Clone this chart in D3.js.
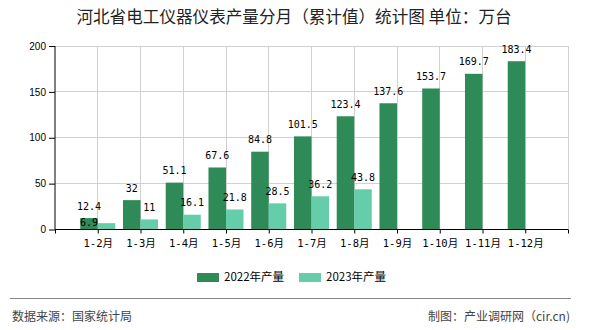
<!DOCTYPE html>
<html><head><meta charset="utf-8">
<script src="https://cdn.jsdelivr.net/npm/d3@7/dist/d3.min.js"></script>
<style>
html,body{margin:0;padding:0;background:#fff;}
svg{display:block;}
</style></head>
<body>
<svg id="chart" width="590" height="330"></svg>
<script>
const categories = ["1-2月","1-3月","1-4月","1-5月","1-6月","1-7月","1-8月","1-9月","1-10月","1-11月","1-12月"];
const series2022 = [12.4,32,51.1,67.6,84.8,101.5,123.4,137.6,153.7,169.7,183.4];
const series2023 = [6.9,11,16.1,21.8,28.5,36.2,43.8,null,null,null,null];
const yTicks = [0,50,100,150,200];
const seriesNames = ["2022年产量","2023年产量"];
const colors = ["#2e8b57","#66cdaa"];
const title = "河北省电工仪器仪表产量分月（累计值）统计图 单位：万台";
const sourceText = "数据来源：国家统计局";
const creditText = "制图：产业调研网（cir.cn)";

const svg = d3.select("#chart");
const L = 55, R = 568, T = 46, B = 229.5;
const monoFont = "'DejaVu Sans Mono','Noto Sans CJK SC',monospace";
const cjkFont = "'Noto Sans CJK SC','Liberation Sans',sans-serif";

const x = d3.scalePoint().domain(["", ...categories, " "]).range([L, R]);
const step = x.step();
const bw = step * 0.41;
const y = d3.scaleLinear().domain([0, 200]).range([B, T]);

// title
svg.append("text").attr("x", 294).attr("y", 23).attr("text-anchor", "middle")
  .attr("font-family", cjkFont).attr("font-size", 16.6).attr("fill", "#222")
  .text(title);

// grid
const g = svg.append("g");
g.selectAll("line.hg").data(yTicks.filter(d => d > 0)).join("line")
  .attr("x1", L).attr("x2", R).attr("y1", d => y(d)).attr("y2", d => y(d))
  .attr("stroke", "#d0d0d0").attr("stroke-width", 1).attr("shape-rendering", "crispEdges");
g.selectAll("line.vg").data(x.domain().slice(1)).join("line")
  .attr("x1", d => x(d)).attr("x2", d => x(d))
  .attr("y1", T).attr("y2", B)
  .attr("stroke", "#d0d0d0").attr("stroke-width", 1).attr("shape-rendering", "crispEdges");

// bars
const bars = svg.append("g");
bars.selectAll("rect.a").data(categories).join("rect")
  .attr("x", (d, i) => x(d) - bw).attr("width", bw)
  .attr("y", (d, i) => y(series2022[i])).attr("height", (d, i) => B - y(series2022[i]))
  .attr("fill", colors[0]);
bars.selectAll("rect.b").data(categories.filter((d, i) => series2023[i] != null)).join("rect")
  .attr("x", d => x(d)).attr("width", bw)
  .attr("y", (d, i) => y(series2023[i])).attr("height", (d, i) => B - y(series2023[i]))
  .attr("fill", colors[1]);

// axes
const yAxis = d3.axisLeft(y).tickValues(yTicks).tickSize(6).tickPadding(3);
const ya = svg.append("g").attr("transform", `translate(${L},0)`).call(yAxis);
ya.selectAll("text").attr("font-family", "'Liberation Sans',Arial,sans-serif").attr("font-size", 10).attr("fill", "#000");
ya.select(".domain").attr("d", `M0,${T}V${B}`).attr("stroke", "#000");
ya.selectAll(".tick line").attr("stroke", "#000");

const xAxis = d3.axisBottom(x).tickSize(4).tickPadding(4).tickFormat(d => d);
const xa = svg.append("g").attr("transform", `translate(0,${B})`).call(xAxis);
xa.select(".domain").attr("d", `M${L},0H${R}`).attr("stroke", "#000");
xa.selectAll(".tick line").attr("stroke", "#000");
xa.selectAll("text").attr("font-family", monoFont).attr("font-size", 10.5).attr("fill", "#000").attr("dy", "0.95em");

// value labels
const lab = svg.append("g").attr("font-family", monoFont).attr("font-size", 10).attr("fill", "#000").attr("text-anchor", "middle");
const boxes = [];
categories.forEach((c, i) => {
  const v = series2022[i];
  const cx = x(c) - bw / 2, by = y(v) - 8.5;
  lab.append("text").attr("x", cx).attr("y", by).text(v);
  const w = String(v).length * 6;
  boxes.push({x0: cx - w / 2, x1: cx + w / 2, y0: by - 8, y1: by + 1});
});
categories.forEach((c, i) => {
  const v = series2023[i];
  if (v == null) return;
  let cx = x(c) + bw / 2, by = y(v) - 8.5;
  const w = String(v).length * 6;
  const b = boxes[i];
  const hit = !(cx + w / 2 < b.x0 || cx - w / 2 > b.x1 || by < b.y0 || by - 8 > b.y1);
  if (hit) { cx = x(c) - bw / 2; by = y(v) + 3; }
  lab.append("text").attr("x", cx).attr("y", by).text(v);
});

// legend
const leg = svg.append("g");
const legX = [197, 299];
seriesNames.forEach((n, i) => {
  leg.append("rect").attr("x", legX[i]).attr("y", 273).attr("width", 22).attr("height", 9).attr("fill", colors[i]);
  leg.append("text").attr("x", legX[i] + 27).attr("y", 281).attr("font-family", cjkFont)
    .attr("font-size", 11.5).attr("fill", "#000").text(n);
});

// separator and footer
svg.append("line").attr("x1", 10).attr("x2", 571).attr("y1", 298.5).attr("y2", 298.5)
  .attr("stroke", "#888").attr("stroke-width", 1);
svg.append("text").attr("x", 12).attr("y", 321).attr("font-family", cjkFont).attr("font-size", 12)
  .attr("fill", "#444").text(sourceText);
svg.append("text").attr("x", 570).attr("y", 321).attr("text-anchor", "end").attr("font-family", cjkFont)
  .attr("font-size", 12).attr("fill", "#444").text(creditText);
</script>
</body></html>
